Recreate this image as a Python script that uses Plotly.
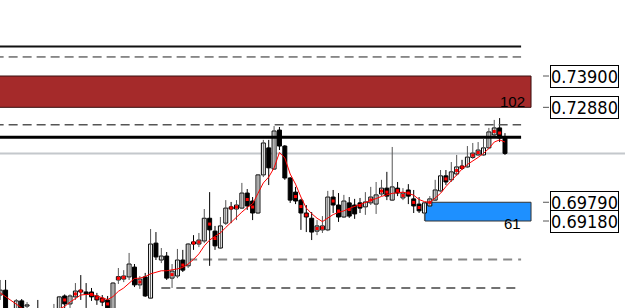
import plotly.graph_objects as go

opens = [0.6677, 0.6693, 0.6622, 0.6628, 0.6658, 0.6641, 0.6622, 0.6632, 0.6609, 0.6615,
         0.6625, 0.6632, 0.6674, 0.6648, 0.6671, 0.6693, 0.6687, 0.6687, 0.6674, 0.6667,
         0.6661, 0.6632, 0.6726, 0.6729, 0.6736, 0.6768, 0.6710, 0.6736, 0.6667, 0.6846,
         0.6791, 0.6804, 0.6732, 0.6739, 0.6791, 0.6772, 0.6850, 0.6843, 0.6853, 0.6927,
         0.6885, 0.6830, 0.6911, 0.6964, 0.6957, 0.6960, 0.7009, 0.6983, 0.6944, 0.7068,
         0.7156, 0.7087, 0.7214, 0.7162, 0.7058, 0.7012, 0.6986, 0.6944, 0.6927, 0.6885,
         0.6889, 0.6889, 0.6996, 0.6970, 0.6931, 0.6977, 0.6970, 0.6977, 0.6964, 0.6977,
         0.6973, 0.7006, 0.7025, 0.6986, 0.7025, 0.6993, 0.7019, 0.6990, 0.6973, 0.6944,
         0.6967, 0.6986, 0.7016, 0.7065, 0.7052, 0.7071, 0.7097, 0.7094, 0.7125, 0.7133,
         0.7133, 0.7156, 0.7198, 0.7221, 0.7188]
highs = [0.6726, 0.6726, 0.6632, 0.6664, 0.6664, 0.6654, 0.6628, 0.6661, 0.6625, 0.6632,
         0.6648, 0.6674, 0.6679, 0.6679, 0.6716, 0.6742, 0.6716, 0.6700, 0.6684, 0.6677,
         0.6674, 0.6719, 0.6765, 0.6758, 0.6814, 0.6778, 0.6739, 0.6749, 0.6892, 0.6882,
         0.6830, 0.6817, 0.6778, 0.6827, 0.6824, 0.6846, 0.6872, 0.6879, 0.6957, 0.7012,
         0.6902, 0.6931, 0.6986, 0.6980, 0.6986, 0.7042, 0.7022, 0.6996, 0.7071, 0.7182,
         0.7182, 0.7227, 0.7224, 0.7165, 0.7061, 0.7029, 0.6990, 0.6970, 0.6947, 0.6921,
         0.6934, 0.7016, 0.7019, 0.7009, 0.7003, 0.6996, 0.6990, 0.6993, 0.7012, 0.7029,
         0.7045, 0.7052, 0.7078, 0.7159, 0.7045, 0.7025, 0.7038, 0.7019, 0.6996, 0.6980,
         0.6999, 0.7052, 0.7084, 0.7084, 0.7110, 0.7133, 0.7117, 0.7162, 0.7172, 0.7175,
         0.7185, 0.7221, 0.7247, 0.7253, 0.7204]
lows = [0.6661, 0.6622, 0.6596, 0.6622, 0.6615, 0.6622, 0.6602, 0.6612, 0.6596, 0.6602,
        0.6609, 0.6628, 0.6628, 0.6635, 0.6661, 0.6661, 0.6635, 0.6658, 0.6645, 0.6641,
        0.6622, 0.6622, 0.6713, 0.6719, 0.6726, 0.6703, 0.6697, 0.6671, 0.6664, 0.6791,
        0.6781, 0.6726, 0.6700, 0.6732, 0.6752, 0.6765, 0.6824, 0.6833, 0.6846, 0.6772,
        0.6824, 0.6827, 0.6905, 0.6911, 0.6921, 0.6957, 0.6954, 0.6921, 0.6941, 0.7061,
        0.7035, 0.7084, 0.7149, 0.7052, 0.6977, 0.6973, 0.6889, 0.6882, 0.6856, 0.6872,
        0.6879, 0.6885, 0.6944, 0.6915, 0.6928, 0.6928, 0.6925, 0.6944, 0.6938, 0.6970,
        0.6941, 0.6999, 0.6986, 0.6983, 0.6999, 0.6986, 0.6973, 0.6944, 0.6944, 0.6918,
        0.6964, 0.6983, 0.7012, 0.7035, 0.7045, 0.7065, 0.7084, 0.7091, 0.7120, 0.7130,
        0.7130, 0.7152, 0.7191, 0.7175, 0.7133]
closes = [0.6693, 0.6628, 0.6609, 0.6658, 0.6632, 0.6645, 0.6612, 0.6625, 0.6615, 0.6622,
          0.6632, 0.6671, 0.6648, 0.6674, 0.6690, 0.6687, 0.6680, 0.6671, 0.6661, 0.6654,
          0.6635, 0.6716, 0.6737, 0.6739, 0.6778, 0.6710, 0.6729, 0.6674, 0.6843, 0.6801,
          0.6804, 0.6732, 0.6755, 0.6791, 0.6758, 0.6843, 0.6843, 0.6856, 0.6927, 0.6889,
          0.6837, 0.6902, 0.6960, 0.6957, 0.6970, 0.7009, 0.6967, 0.6944, 0.7068, 0.7172,
          0.7091, 0.7211, 0.7162, 0.7058, 0.6986, 0.6983, 0.6944, 0.6931, 0.6882, 0.6902,
          0.6902, 0.6996, 0.6970, 0.6931, 0.6983, 0.6934, 0.6941, 0.6960, 0.6980, 0.6996,
          0.7003, 0.7025, 0.6999, 0.7029, 0.7009, 0.7009, 0.6999, 0.6967, 0.6951, 0.6977,
          0.6990, 0.7019, 0.7065, 0.7045, 0.7078, 0.7094, 0.7089, 0.7126, 0.7139, 0.7149,
          0.7156, 0.7208, 0.7221, 0.7188, 0.7138]
ma_values = [0.6684, 0.6671, 0.6658, 0.6645, 0.6635, 0.6625, 0.6619, 0.6615, 0.6615, 0.6619,
             0.6625, 0.6632, 0.6640, 0.6654, 0.6667, 0.6677, 0.6679, 0.6679, 0.6674, 0.6669,
             0.6662, 0.6672, 0.6689, 0.6700, 0.6716, 0.6731, 0.6732, 0.6737, 0.6746, 0.6752,
             0.6756, 0.6756, 0.6758, 0.6762, 0.6767, 0.6778, 0.6793, 0.6811, 0.6837, 0.6856,
             0.6868, 0.6879, 0.6897, 0.6914, 0.6932, 0.6947, 0.6962, 0.6974, 0.7008, 0.7042,
             0.7061, 0.7091, 0.7141, 0.7123, 0.7071, 0.7038, 0.6996, 0.6960, 0.6942, 0.6927,
             0.6916, 0.6928, 0.6939, 0.6946, 0.6951, 0.6959, 0.6965, 0.6973, 0.6978, 0.6983,
             0.6991, 0.6998, 0.7003, 0.7008, 0.7010, 0.7012, 0.7008, 0.7002, 0.6988, 0.6981,
             0.6978, 0.6992, 0.7008, 0.7030, 0.7050, 0.7068, 0.7087, 0.7102, 0.7113, 0.7125,
             0.7138, 0.7154, 0.7175, 0.7182, 0.7175]
dot_bars = [12, 14, 15, 17, 18, 19, 20, 22, 23, 26, 32, 34, 36, 37, 39, 40, 43, 44, 46, 47,
            55, 56, 57, 59, 60, 62, 63, 65, 67, 69, 71, 72, 74, 75, 76, 77, 78, 80, 83, 85,
            86, 88, 89, 92, 93]

# horizontal levels
solid_levels = [0.7486, 0.7191]
dashed_levels = [0.7452, 0.7231]
low_dashed_levels = [0.6793, 0.6700]
low_dashed_start = [35, 30]
supply_zone = [0.7390, 0.7288]
demand_zone = [0.6979, 0.6918]
zone_texts = ["102", "61"]
price_labels = ["0.73900", "0.72880", "0.69790", "0.69180"]
price_levels = [0.7390, 0.7288, 0.6979, 0.6918]

n = len(opens)
xs = list(range(n))
X0, X1 = -0.041, 116.35
Y0, Y1 = 0.66348, 0.76374
line_end = 97.0
zone_end = 98.85
demand_start = 79.1
FONT = "Liberation Sans Narrow, DejaVu Sans Condensed, Arial Narrow, sans-serif"
FONT2 = "Liberation Sans, Arial, sans-serif"

fig = go.Figure()

# wicks
for up, col in [(True, "#555555"), (False, "#000000")]:
    wx, wy = [], []
    for i in xs:
        if (closes[i] >= opens[i]) == up:
            wx += [i, i, None]
            wy += [lows[i], highs[i], None]
    fig.add_trace(go.Scatter(x=wx, y=wy, mode="lines", line=dict(color=col, width=1),
                             hoverinfo="skip"))

# bodies
base = [min(o, c) for o, c in zip(opens, closes)]
height = [max(abs(c - o), 0.00005) for o, c in zip(opens, closes)]
colors = ["#ffffff" if c >= o else "#000000" for o, c in zip(opens, closes)]
fig.add_trace(go.Bar(x=xs, y=height, base=base, width=0.74,
                     marker=dict(color=colors, line=dict(color="#000000", width=1)),
                     hoverinfo="skip"))

# moving average
fig.add_trace(go.Scatter(x=xs, y=ma_values, mode="lines",
                         line=dict(color="#ff0000", width=1), hoverinfo="skip"))

# red dots
fig.add_trace(go.Scatter(x=dot_bars, y=[(opens[i] + closes[i]) / 2 for i in dot_bars],
                         mode="markers", marker=dict(color="#ff0000", size=3, symbol="square"),
                         hoverinfo="skip"))

shapes = []
# zones
shapes.append(dict(type="rect", xref="x", yref="y", x0=X0 - 1, x1=zone_end,
                   y0=supply_zone[1], y1=supply_zone[0], fillcolor="#a52a2a",
                   line=dict(color="#3a1010", width=1), layer="below"))
shapes.append(dict(type="rect", xref="x", yref="y", x0=demand_start, x1=zone_end,
                   y0=demand_zone[1], y1=demand_zone[0], fillcolor="#1e90ff",
                   line=dict(color="#333333", width=1), layer="below"))
# bid line
shapes.append(dict(type="line", xref="paper", yref="y", x0=0, x1=1,
                   y0=closes[-1], y1=closes[-1], line=dict(color="#c4c8cc", width=2),
                   layer="below"))
# solid / dashed levels
shapes.append(dict(type="line", xref="x", yref="y", x0=X0 - 1, x1=line_end,
                   y0=solid_levels[0], y1=solid_levels[0], line=dict(color="#111111", width=2)))
shapes.append(dict(type="line", xref="x", yref="y", x0=X0 - 1, x1=line_end,
                   y0=solid_levels[1], y1=solid_levels[1], line=dict(color="#000000", width=3)))
shapes.append(dict(type="line", xref="x", yref="y", x0=X0 - 1, x1=line_end,
                   y0=dashed_levels[0], y1=dashed_levels[0],
                   line=dict(color="#222222", width=1, dash="9px,5px")))
shapes.append(dict(type="line", xref="x", yref="y", x0=X0 - 1, x1=line_end,
                   y0=dashed_levels[1], y1=dashed_levels[1],
                   line=dict(color="#555555", width=1.5, dash="9px,5px")))
shapes.append(dict(type="line", xref="x", yref="y", x0=low_dashed_start[0], x1=line_end,
                   y0=low_dashed_levels[0], y1=low_dashed_levels[0],
                   line=dict(color="#888888", width=2, dash="9px,6px"), layer="below"))
shapes.append(dict(type="line", xref="x", yref="y", x0=low_dashed_start[1], x1=line_end,
                   y0=low_dashed_levels[1], y1=low_dashed_levels[1],
                   line=dict(color="#444444", width=1.5, dash="9px,6px"), layer="below"))
# price tick marks
for p in price_levels:
    shapes.append(dict(type="line", xref="paper", yref="y", x0=543 / 625, x1=549 / 625,
                       y0=p, y1=p, line=dict(color="#555555", width=1)))

annotations = []
for txt, p in zip(price_labels, price_levels):
    annotations.append(dict(x=549.5 / 625, xref="paper", xanchor="left", y=p, yref="y",
                            yanchor="middle", text=txt, showarrow=False,
                            font=dict(family=FONT, size=18, color="#000000"),
                            bgcolor="#ffffff", bordercolor="#000000", borderwidth=1,
                            borderpad=0))
annotations.append(dict(x=98.1, xref="x", xanchor="right", y=0.7306, yref="y",
                        yanchor="middle", text=zone_texts[0], showarrow=False,
                        font=dict(family=FONT2, size=15, color="#000000")))
annotations.append(dict(x=97.4, xref="x", xanchor="right", y=0.6909, yref="y",
                        yanchor="middle", text=zone_texts[1], showarrow=False,
                        font=dict(family=FONT2, size=15, color="#000000")))

fig.update_layout(
    width=625, height=308, margin=dict(l=0, r=0, t=0, b=0),
    paper_bgcolor="#ffffff", plot_bgcolor="#ffffff",
    showlegend=False, hovermode=False,
    xaxis=dict(range=[X0, X1], visible=False, fixedrange=True),
    yaxis=dict(range=[Y0, Y1], visible=False, fixedrange=True),
    shapes=shapes, annotations=annotations,
)

fig.write_html("out.html", config={"displayModeBar": False})
